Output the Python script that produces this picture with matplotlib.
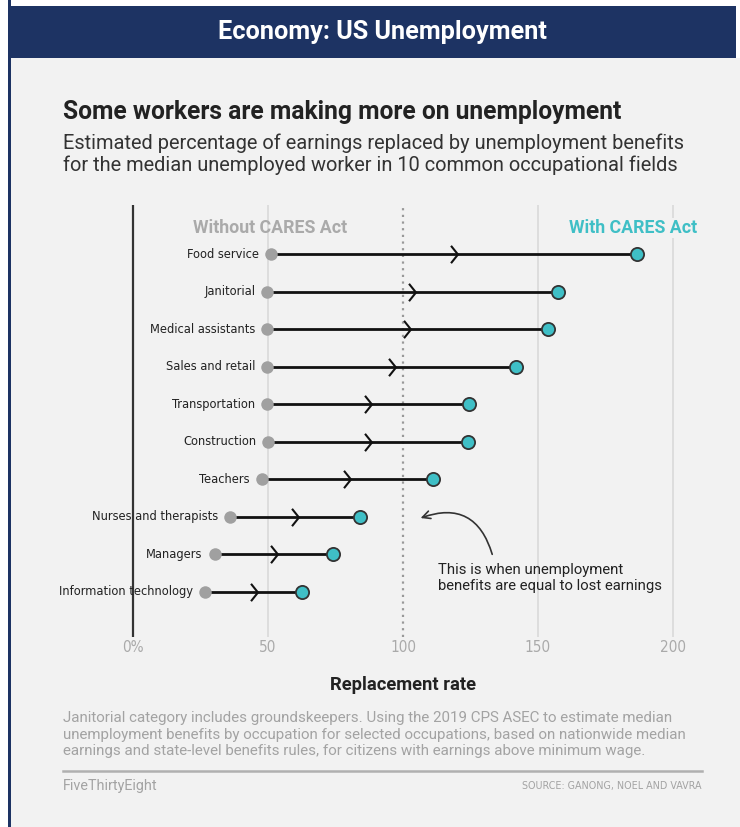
import matplotlib
matplotlib.use("Agg")
import matplotlib.pyplot as plt
from matplotlib.patches import Rectangle
from matplotlib.path import Path
from matplotlib.lines import Line2D

categories = ["Food service", "Janitorial", "Medical assistants", "Sales and retail",
              "Transportation", "Construction", "Teachers", "Nurses and therapists",
              "Managers", "Information technology"]
without_cares = [51, 49.6, 49.6, 49.6, 49.6, 50, 47.6, 35.9, 30.2, 26.7]
with_cares = [186.7, 157.4, 153.7, 141.9, 124.4, 124.2, 111, 83.9, 74.2, 62.6]
tick_values = [0, 50, 100, 150, 200]
tick_labels = ["0%", "50", "100", "150", "200"]

W, H = 740, 827
fig = plt.figure(figsize=(W / 100, H / 100), dpi=100)
fig.patch.set_facecolor("white")

def fx(px):
    return px / W

def fy(py):
    return 1 - py / H

NAVY = "#1d3363"
TEAL = "#3fbfc6"
PANEL = "#f2f2f2"
COND = ["DejaVu Sans"]
SANS = ["Roboto", "DejaVu Sans"]

# background panel and banner
fig.add_artist(Rectangle((fx(8), 0), fx(740 - 8), fy(58), transform=fig.transFigure,
                         facecolor=PANEL, edgecolor="none", zorder=0))
fig.add_artist(Rectangle((fx(8), 0), fx(2.5), 1, transform=fig.transFigure,
                         facecolor=NAVY, edgecolor="none", zorder=1))
fig.add_artist(Rectangle((fx(8), fy(58)), fx(736 - 8), fy(6) - fy(58), transform=fig.transFigure,
                         facecolor=NAVY, edgecolor="none", zorder=1))
fig.text(fx(382), fy(32), "Economy: US Unemployment", color="white", fontsize=18.2,
         fontweight="bold", ha="center", va="center", family=SANS)

# title & subtitle
fig.text(fx(63), fy(112), "Some workers are making more on unemployment", color="#222222",
         fontsize=17.75, fontweight="bold", ha="left", va="center", family=SANS)
fig.text(fx(63), fy(143), "Estimated percentage of earnings replaced by unemployment benefits",
         color="#333333", fontsize=14.45, ha="left", va="center", family=SANS)
fig.text(fx(63), fy(165), "for the median unemployed worker in 10 common occupational fields",
         color="#333333", fontsize=14.45, ha="left", va="center", family=SANS)

# axes
ax_left, ax_right, ax_top, ax_bottom = 50, 720, 205, 637
ax = fig.add_axes([fx(ax_left), fy(ax_bottom), fx(ax_right - ax_left), (ax_bottom - ax_top) / H])
ax.set_facecolor("none")
x0, ppu = 133, 2.7
ax.set_xlim((ax_left - x0) / ppu, (ax_right - x0) / ppu)
row0, rstep = 254, 37.55
ax.set_ylim((ax_bottom - row0) / rstep, (ax_top - row0) / rstep)
for s in ax.spines.values():
    s.set_visible(False)
ax.set_xticks([])
ax.set_yticks([])

for v in tick_values:
    if v == 0:
        ax.axvline(v, color="#333333", lw=1.6, zorder=1)
    elif v == 100:
        ax.axvline(v, color="#999999", lw=1.6, ls=(0, (1, 2)), zorder=1)
    else:
        ax.axvline(v, color="#d9d9d9", lw=1.2, zorder=1)

ylab = -(648 - ax_bottom) / (ax_bottom - ax_top)
for v, lab in zip(tick_values, tick_labels):
    ax.text(v, ylab, lab, transform=ax.get_xaxis_transform(), ha="center", va="center",
            color="#aaaaaa", fontsize=11, family=COND, fontstretch="condensed")
ax.text(100, -(685 - ax_bottom) / (ax_bottom - ax_top), "Replacement rate",
        transform=ax.get_xaxis_transform(), ha="center", va="center", color="#222222",
        fontsize=13.2, fontweight="bold", family=SANS)

chevron = Path([(-0.4, 1), (0.4, 0), (-0.4, -1)], [Path.MOVETO, Path.LINETO, Path.LINETO])

for i, (cat, a, b) in enumerate(zip(categories, without_cares, with_cares)):
    ax.plot([a, b], [i, i], color="#111111", lw=2, zorder=2, solid_capstyle="butt")
    ax.plot([(a + b) / 2], [i], marker=chevron, ms=12.5, mfc="none", mec="#111111", mew=1.5,
            ls="none", zorder=3)
    ax.plot([a], [i], marker="o", ms=9, mfc="#a0a0a0", mec="none", ls="none", zorder=4)
    ax.plot([b], [i], marker="o", ms=9.5, mfc=TEAL, mec="#333333", mew=1.3, ls="none", zorder=4)
    ax.annotate(cat, (a, i), xytext=(-8.5, 0), textcoords="offset points", ha="right",
                va="center", fontsize=9.2, color="#222222", family=COND,
                fontstretch="condensed", zorder=5)

ax.text((193 - x0) / ppu, (228 - row0) / rstep, "Without CARES Act", ha="left", va="center",
        color="#aaaaaa", fontsize=12.8, fontweight="bold", family=SANS, zorder=5)
ax.text((697 - x0) / ppu, (228 - row0) / rstep, "With CARES Act", ha="right", va="center",
        color=TEAL, fontsize=12.8, fontweight="bold", family=SANS, zorder=5,
        bbox=dict(facecolor=PANEL, edgecolor="none", pad=1))

# annotation
ax.annotate("", xy=((418 - x0) / ppu, (519 - row0) / rstep),
            xytext=((493 - x0) / ppu, (557 - row0) / rstep),
            arrowprops=dict(arrowstyle="->", color="#333333", lw=1.2,
                            connectionstyle="arc3,rad=0.55", mutation_scale=14))
ax.text((438 - x0) / ppu, (563 - row0) / rstep,
        "This is when unemployment\nbenefits are equal to lost earnings",
        ha="left", va="top", fontsize=10.7, color="#222222", family=SANS, linespacing=1.2)

# footnote
notes = ["Janitorial category includes groundskeepers. Using the 2019 CPS ASEC to estimate median",
         "unemployment benefits by occupation for selected occupations, based on nationwide median",
         "earnings and state-level benefits rules, for citizens with earnings above minimum wage."]
for k, line in enumerate(notes):
    fig.text(fx(63), fy(718 + 16.5 * k), line, color="#a3a3a3", fontsize=10.9, ha="left",
             va="center", family=SANS)
fig.add_artist(Line2D([fx(63), fx(702)], [fy(771), fy(771)], transform=fig.transFigure,
                      color="#b0b0b0", lw=1.8))
fig.text(fx(63), fy(786), "FiveThirtyEight", color="#a3a3a3", fontsize=10.4, ha="left",
         va="center", family=SANS)
fig.text(fx(702), fy(786), "SOURCE: GANONG, NOEL AND VAVRA", color="#a3a3a3", fontsize=7.7,
         ha="right", va="center", family=COND, fontstretch="condensed")

fig.savefig("out.png", dpi=100, facecolor="white")
